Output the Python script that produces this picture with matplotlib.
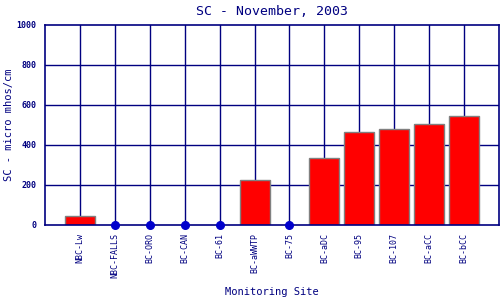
import numpy as np
import matplotlib
matplotlib.use("Agg")
import matplotlib.pyplot as plt

sites = ["NBC-Lw", "NBC-FALLS", "BC-ORO", "BC-CAN", "BC-61", "BC-aWWTP",
         "BC-75", "BC-aDC", "BC-95", "BC-107", "BC-aCC", "BC-bCC"]
sc = [46, 0, 0, 0, 0, 225, 0, 335, 465, 480, 505, 546]

navy = "#000080"
plt.rcParams['font.family'] = ['DejaVu Sans Mono']

fig = plt.figure(figsize=(5, 3), dpi=100)
ax = fig.add_axes([0.09, 0.25, 0.908, 0.667])

x = np.arange(len(sites))
vals = np.array(sc)

# grid first
for v in range(200, 1000, 200):
    ax.axhline(v, color=navy, lw=1, zorder=1)
for xi in x:
    ax.axvline(xi, color=navy, lw=1, zorder=1)

ax.bar(x[vals > 0], vals[vals > 0], width=0.86, color="red",
       edgecolor="gray", linewidth=1, zorder=2)
ax.plot(x[vals == 0], vals[vals == 0], "o", color="#0000cc", ms=5.5,
        clip_on=False, zorder=3)

ax.set_xlim(-1, 12)
ax.set_ylim(0, 1000)
ax.set_yticks(range(0, 1001, 200))
ax.set_yticklabels([str(v) for v in range(0, 1001, 200)], fontsize=6,
                   fontweight="bold", color=navy)
ax.set_xticks(x)
ax.set_xticklabels(sites, rotation=90, fontsize=6, color=navy)
ax.tick_params(length=0, pad=6)
for s in ax.spines.values():
    s.set_color(navy)
    s.set_linewidth(1.2)

ax.set_title("SC - November, 2003", fontsize=9.5, color=navy, pad=7)
ax.set_ylabel("SC - micro mhos/cm", fontsize=7.5, color=navy, va="center")
ax.yaxis.set_label_coords(-0.079, 0.5)
ax.set_xlabel("Monitoring Site", fontsize=7.5, color=navy)
ax.xaxis.set_label_coords(0.5, -0.31)

fig.savefig("out.png", dpi=100)
